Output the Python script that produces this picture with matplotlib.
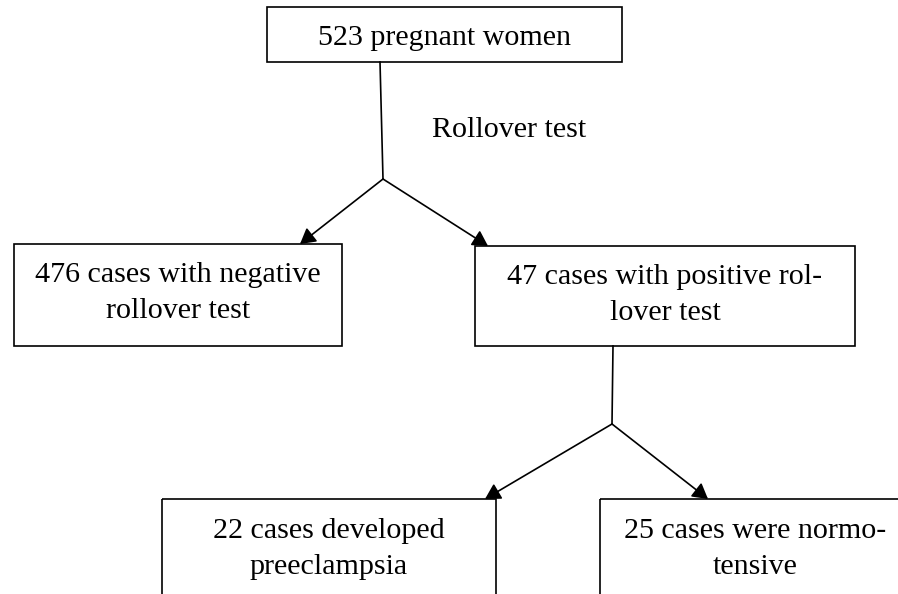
import matplotlib.pyplot as plt
from matplotlib.patches import Rectangle

# flowchart texts
top_label = "523 pregnant women"
branch_label = "Rollover test"
mid_labels = ["476 cases with negative\nrollover test",
              "47 cases with positive rol-\nlover test"]
bottom_labels = ["22 cases developed\npreeclampsia",
                 "25 cases were normo-\ntensive"]

# layout in pixel coords (y downwards)
W, H = 898, 594
top_box = (267, 7, 622, 62)
mid_boxes = [(14, 244, 342, 346), (475, 246, 855, 346)]
bottom_boxes = [(162, 499, 496, H + 5), (600, 499, 910, H + 5)]
junction1 = (383, 179)
junction2 = (612, 424)
tips1 = [(300, 244), (488, 246)]
tips2 = [(485, 499), (708, 499)]

FS = 21.6
FONT = "Liberation Serif"
LW = 1.2

fig = plt.figure(figsize=(W / 100, H / 100), dpi=100)
ax = fig.add_axes([0, 0, 1, 1])
ax.set_xlim(0, W)
ax.set_ylim(H, 0)
ax.axis("off")


def box(b, lines, first_base):
    x0, y0, x1, y1 = b
    ax.add_patch(Rectangle((x0, y0), x1 - x0, y1 - y0, fill=False,
                           edgecolor="black", lw=LW, clip_on=True))
    cx = (x0 + x1) / 2
    for i, line in enumerate(lines.split("\n")):
        ax.text(cx, first_base + i * 36, line, ha="center", va="baseline",
                fontsize=FS, family=FONT, color="black")


def arrow(start, end):
    ax.annotate("", xy=end, xytext=start,
                arrowprops=dict(arrowstyle="-|>,head_length=0.42,head_width=0.24",
                                color="black", lw=LW,
                                mutation_scale=22, shrinkA=0, shrinkB=0))


box(top_box, top_label, 45)
ax.plot([380, junction1[0]], [top_box[3], junction1[1]], color="black", lw=LW)
ax.text(432, 137, branch_label, ha="left", va="baseline",
        fontsize=FS, family=FONT)
for b, lab in zip(mid_boxes, mid_labels):
    box(b, lab, b[1] + 38)
for t in tips1:
    arrow(junction1, t)

ax.plot([613, junction2[0]], [mid_boxes[1][3], junction2[1]], color="black", lw=LW)
for b, lab in zip(bottom_boxes, bottom_labels):
    box(b, lab, b[1] + 39)
for t in tips2:
    arrow(junction2, t)

fig.savefig("out.png", dpi=100)
